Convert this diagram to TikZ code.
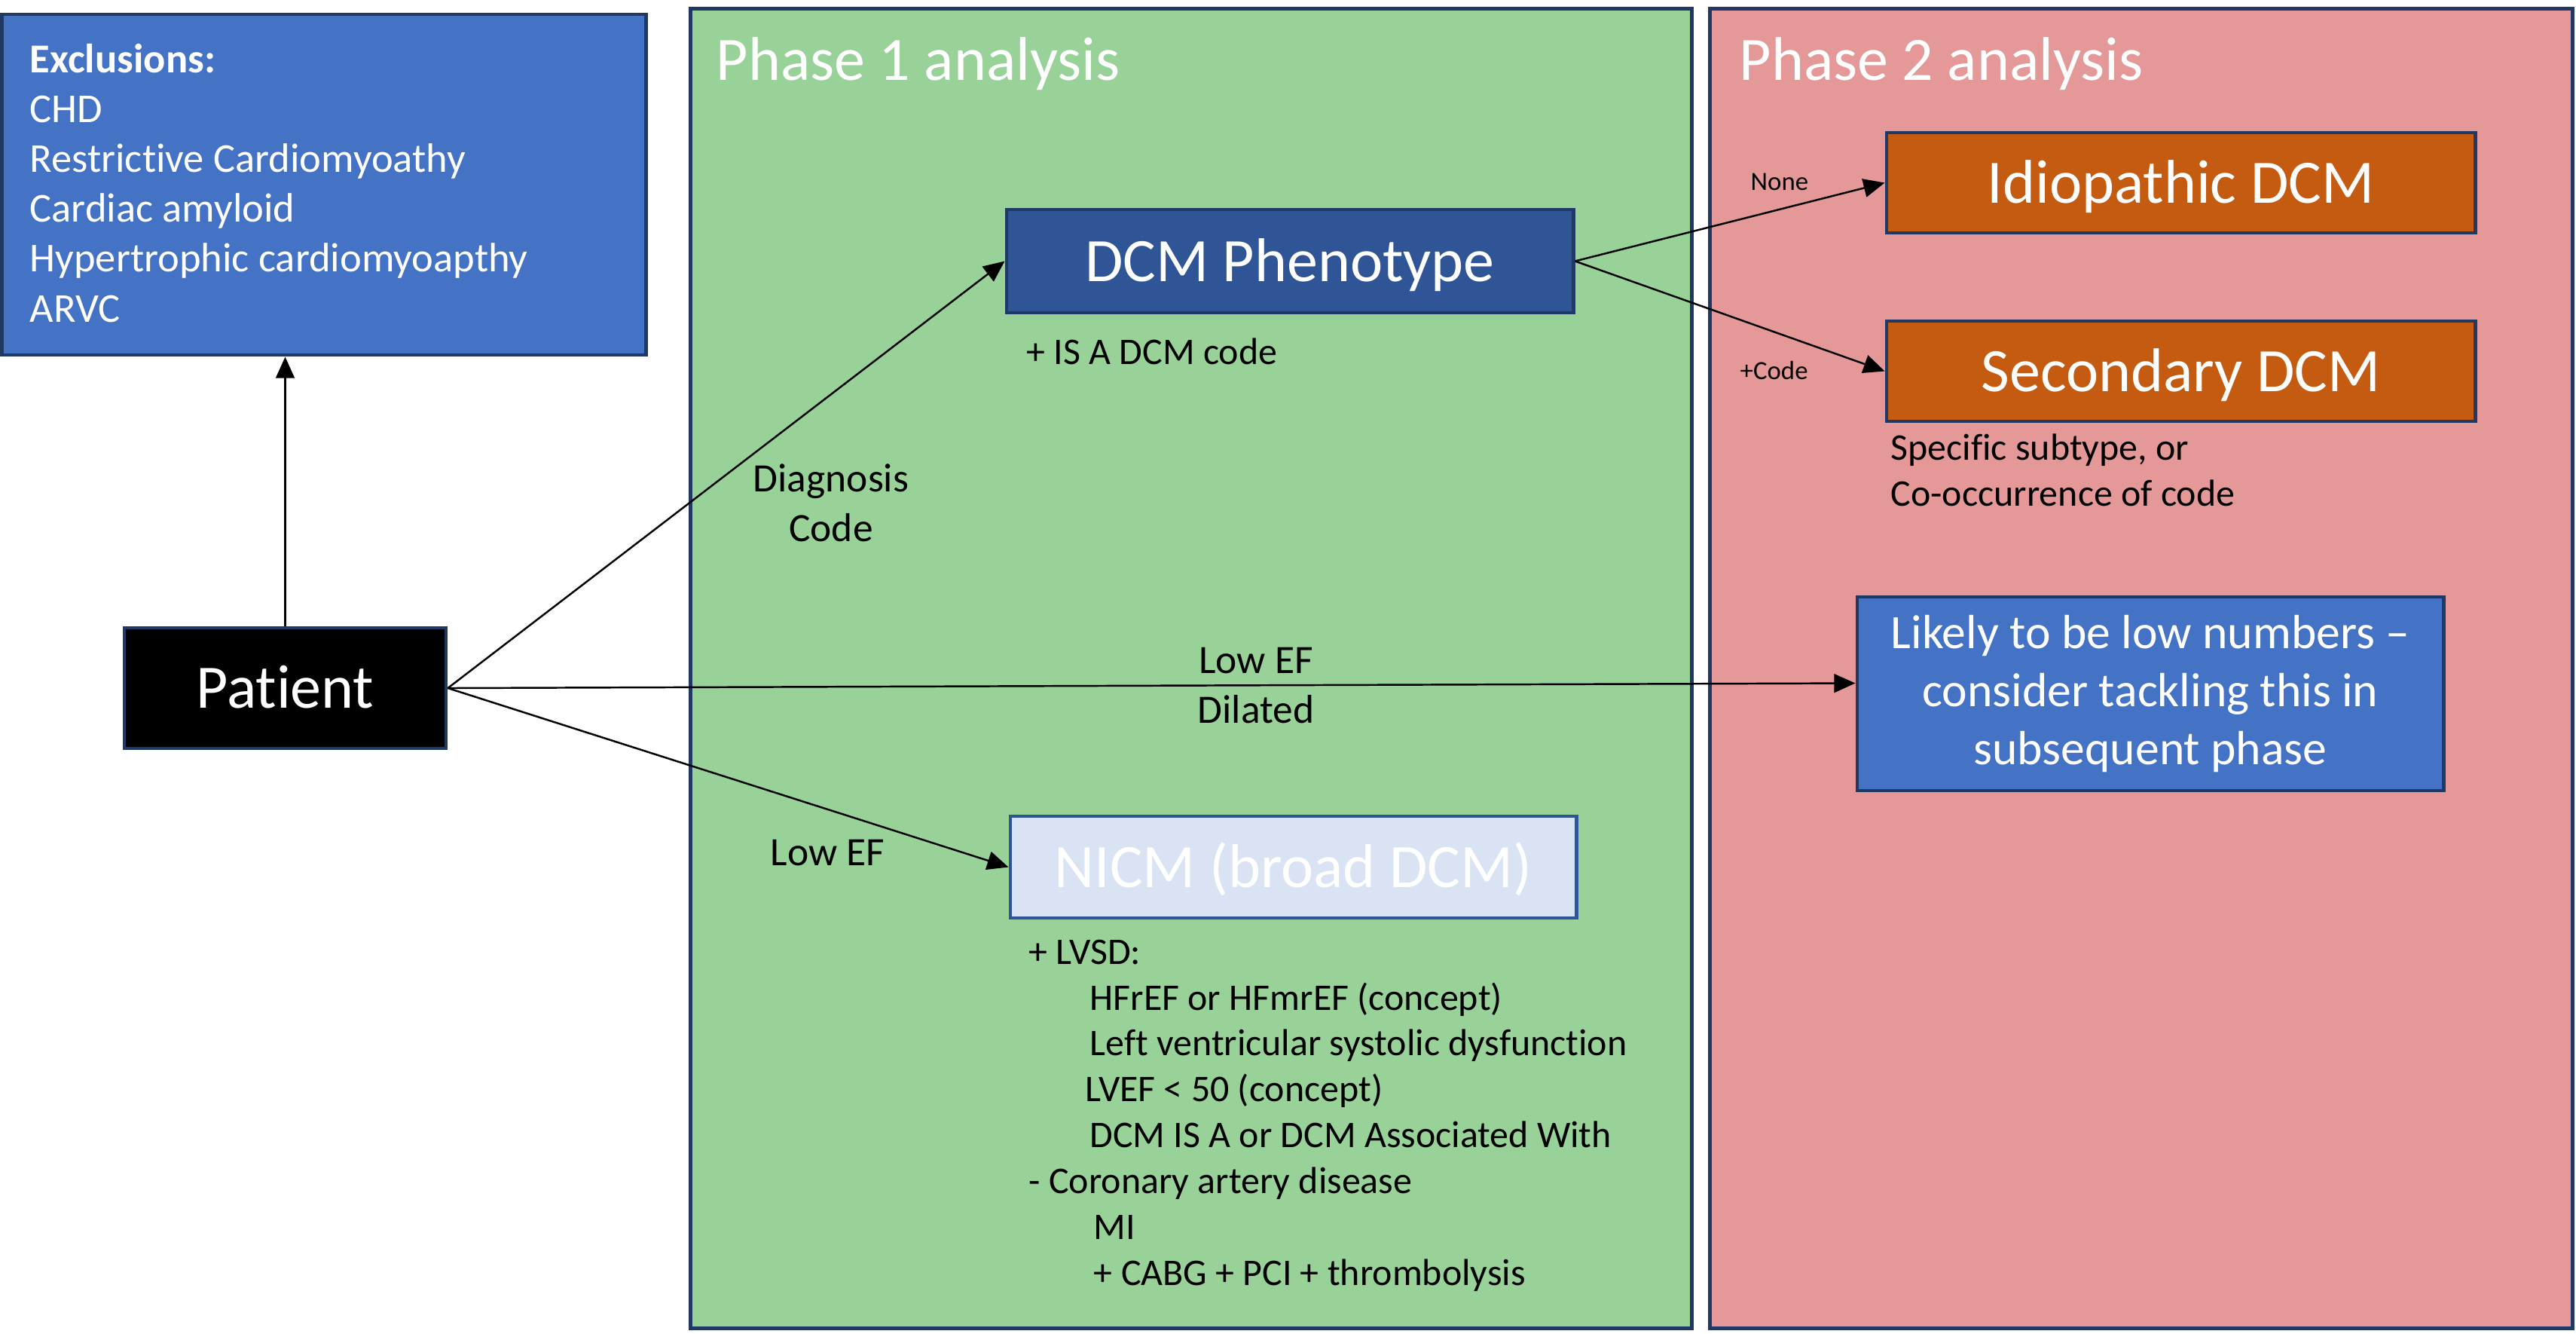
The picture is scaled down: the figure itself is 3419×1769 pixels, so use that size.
\documentclass[tikz,border=0pt]{standalone}
\usepackage{fontspec}
\setmainfont{Carlito}[Ligatures=NoCommon]
\usetikzlibrary{arrows.meta,calc}
\definecolor{navy}{HTML}{1F3864}
\definecolor{pgreen}{HTML}{98D298}
\definecolor{ppink}{HTML}{E49898}
\definecolor{mblue}{HTML}{4472C4}
\definecolor{dblue}{HTML}{2F5597}
\definecolor{orng}{HTML}{C55A11}
\definecolor{lblue}{HTML}{DAE3F3}
\newcommand\fbig{\fontsize{23.3pt}{28pt}\selectfont}
\newcommand\fexcl{\fontsize{15.5pt}{18.8pt}\selectfont}
\newcommand\flik{\fontsize{18.1pt}{21.9pt}\selectfont}
\newcommand\fsmall{\fontsize{14.2pt}{17.3pt}\selectfont}
\newcommand\flab{\fontsize{15.2pt}{18.5pt}\selectfont}
\newcommand\ftiny{\fontsize{9.9pt}{12pt}\selectfont}
\begin{document}
\begin{tikzpicture}[x=0.01cm,y=-0.01cm,
  boxbase/.style={rectangle,draw=navy,line width=1.3pt,inner sep=0pt,text=white},
  oneline/.style={boxbase,font=\fbig,text height=15.1pt,text depth=0pt},
  panel/.style={rectangle,draw=navy,line width=1.3pt,inner sep=0pt,minimum height=17.50cm},
  ptitle/.style={anchor=base west,inner sep=0pt,text=white,font=\fbig},
  lab/.style={inner sep=0pt,font=\flab,text=black},
  note/.style={anchor=base west,inner sep=0pt,align=left,font=\fsmall,text=black},
  conn/.style={-{Triangle[length=8pt,width=7pt]},line width=0.7pt,draw=black}]
\path[use as bounding box,fill=white] (0,0) rectangle (3419,1769);

% panels
\node[panel,fill=pgreen,minimum width=13.28cm] (p1) at (1581,887) {};
\node[panel,fill=ppink,minimum width=11.44cm] (p2) at (2842,887) {};
\node[ptitle] (p1t) at (950,106) {Phase 1 analysis};
\node[ptitle] (p2t) at (2308,106) {Phase 2 analysis};

% exclusions (multi-line nodes: base = last line)
\node[boxbase,fill=mblue,minimum width=8.54cm,minimum height=4.52cm] (excl) at (430,245) {};
\node[anchor=base west,inner sep=0pt,align=left,font=\fexcl,text=white] (excltext) at (39,427)
  {\textbf{Exclusions:}\\CHD\\Restrictive Cardiomyoathy\\Cardiac amyloid\\Hypertrophic cardiomyoapthy\\ARVC};

% boxes
\node[oneline,fill=black,minimum width=4.27cm,minimum height=1.60cm] (patient) at (378.5,913) {Patient};
\node[oneline,fill=dblue,minimum width=7.52cm,minimum height=1.37cm] (dcm) at (1712,346.5) {DCM Phenotype};
\node[oneline,fill=orng,minimum width=7.81cm,minimum height=1.33cm] (idio) at (2894.5,242.5) {Idiopathic DCM};
\node[oneline,fill=orng,minimum width=7.81cm,minimum height=1.33cm] (sec) at (2894.5,492.5) {Secondary DCM};
\node[oneline,fill=lblue,draw=dblue,minimum width=7.51cm,minimum height=1.35cm] (nicm) at (1716.5,1150.5) {NICM (broad DCM)};
\node[boxbase,fill=mblue,font=\flik,align=center,minimum width=7.78cm,minimum height=2.57cm] (likely) at (2854,920.5)
  {Likely to be low numbers --\\consider tackling this in\\subsequent phase};

% notes
\node[note] (isa) at (1362,483) {+ IS A DCM code};
\node[note] (spec) at (2509,671) {Specific subtype, or\\Co-occurrence of code};
\node[note] (lvsd) at (1365,1705)
  {+ LVSD:\\
   \hspace*{23pt}HFrEF or HFmrEF (concept)\\
   \hspace*{23pt}Left ventricular systolic dysfunction\\
   \hspace*{21.3pt}LVEF {<} 50 (concept)\\
   \hspace*{23pt}DCM IS A or DCM Associated With\\
   - Coronary artery disease\\
   \hspace*{24.5pt}MI\\
   \hspace*{24.5pt}+ CABG + PCI + thrombolysis};

% edge labels
\node[lab,anchor=base,align=center] (ldiag) at (1103,718) {Diagnosis\\Code};
\node[lab,anchor=base west] (llow) at (1022,1148) {Low EF};
\node[lab,anchor=base,align=center] (ldil) at (1667,959) {Low EF\\Dilated};
\node[anchor=base west,inner sep=0pt,font=\ftiny] (lnone) at (2323,252) {None};
\node[anchor=base west,inner sep=0pt,font=\ftiny] (lcode) at (2309,503) {+Code};

% connectors
\draw[conn] (patient.north) -- (patient.north |- excl.south);
\draw[conn] (patient.east) -- (dcm.west);
\draw[conn] (patient.east) -- ($(likely.west)+(0,-14)$);
\draw[conn] (patient.east) -- (nicm.west);
\draw[conn] (dcm.east) -- (idio.west);
\draw[conn] (dcm.east) -- (sec.west);
\end{tikzpicture}
\end{document}
